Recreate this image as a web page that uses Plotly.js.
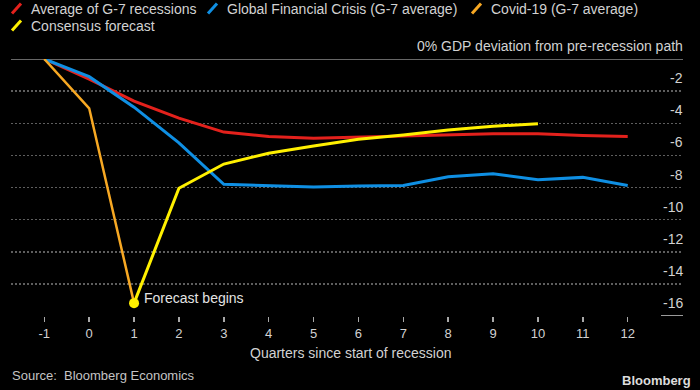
<!DOCTYPE html>
<html>
<head>
<meta charset="utf-8">
<script src="https://cdn.plot.ly/plotly-3.0.1.min.js"></script>
<style>
html,body{margin:0;padding:0;background:#000;}
#chart{width:700px;height:390px;}
</style>
</head>
<body>
<div id="chart"></div>
<script>
// ---- Data ----
const quarters = [-1, 0, 1, 2, 3, 4, 5, 6, 7, 8, 9, 10, 11, 12];
const avgG7 = [0, -1.25, -2.62, -3.68, -4.55, -4.83, -4.94, -4.86, -4.79, -4.71, -4.65, -4.65, -4.77, -4.83];
const gfc = [0, -1.1, -3.0, -5.22, -7.8, -7.89, -7.97, -7.91, -7.87, -7.33, -7.14, -7.51, -7.37, -7.87];
const covidQuarters = [-1, 0, 1];
const covid = [0, -3.07, -15.2];
const forecastQuarters = [1, 2, 3, 4, 5, 6, 7, 8, 9, 10];
const forecast = [-15.2, -8.05, -6.54, -5.87, -5.42, -5.0, -4.73, -4.42, -4.19, -4.03];

const seriesNames = ["Average of G-7 recessions", "Global Financial Crisis (G-7 average)", "Covid-19 (G-7 average)", "Consensus forecast"];
const yTickVals = [0, -2, -4, -6, -8, -10, -12, -14, -16];
const yTickText = ["0% GDP deviation from pre-recession path", "-2", "-4", "-6", "-8", "-10", "-12", "-14", "-16"];
const xTitle = "Quarters since start of recession";
const sourceText = "Source:  Bloomberg Economics";
const forecastLabel = "Forecast begins";

// ---- Styling / layout helpers ----
const colors = ["#e3211c", "#0f8fe3", "#f7a823", "#fff000"];
const W = 700, H = 390, ML = 11, MR = 17, MT = 59, MB = 74;
const px = x => (x - ML) / (W - ML - MR);
const py = y => (H - MB - y) / (H - MT - MB);
const font = "Liberation Sans, Arial, sans-serif";
const textCol = "#d2d2d2";

const traces = [
  {x: quarters, y: avgG7, name: seriesNames[0], mode: "lines", line: {color: colors[0], width: 3}},
  {x: quarters, y: gfc, name: seriesNames[1], mode: "lines", line: {color: colors[1], width: 3}},
  {x: covidQuarters, y: covid, name: seriesNames[2], mode: "lines", line: {color: colors[2], width: 2.5}},
  {x: forecastQuarters, y: forecast, name: seriesNames[3], mode: "lines", line: {color: colors[3], width: 3}},
  {x: [forecastQuarters[0]], y: [forecast[0]], mode: "markers", marker: {color: colors[3], size: 10}, showlegend: false, hoverinfo: "skip"}
];

// legend rows (pixel positions of items)
const legendItems = [
  {slashX: 12, textX: 29, rowY: 8.5},
  {slashX: 208, textX: 225, rowY: 8.5},
  {slashX: 472, textX: 489, rowY: 8.5},
  {slashX: 12, textX: 29, rowY: 25.5}
];

const shapes = [];
const annotations = [];
legendItems.forEach((it, i) => {
  shapes.push({type: "line", xref: "paper", yref: "paper",
    x0: px(it.slashX), y0: py(it.rowY + 5), x1: px(it.slashX + 9), y1: py(it.rowY - 5),
    line: {color: colors[i], width: 3}});
  annotations.push({xref: "paper", yref: "paper", x: px(it.textX), y: py(it.rowY),
    xanchor: "left", yanchor: "middle", showarrow: false, text: seriesNames[i],
    font: {family: font, size: 14, color: textCol}});
});

// zero line and -16 base mark
shapes.push({type: "line", xref: "paper", yref: "y", x0: 0, x1: 1, y0: 0, y1: 0, layer: "below",
  line: {color: "#8a8a8a", width: 1.5}});
shapes.push({type: "line", xref: "paper", yref: "y", x0: px(661), x1: 1, y0: -16, y1: -16, layer: "below",
  line: {color: "#9a9a9a", width: 2}});

// y labels above gridlines, right aligned
yTickVals.forEach((v, i) => {
  annotations.push({xref: "paper", yref: "y", x: 1, y: v, xanchor: "right", yanchor: "middle",
    xshift: 2, yshift: 13, showarrow: false, text: yTickText[i],
    font: {family: font, size: 14, color: textCol}});
});

// x axis title
annotations.push({xref: "paper", yref: "paper", x: px(351), y: py(353), xanchor: "center", yanchor: "middle",
  showarrow: false, text: xTitle, font: {family: font, size: 14, color: textCol}});
// source
annotations.push({xref: "paper", yref: "paper", x: px(10), y: py(375), xanchor: "left", yanchor: "middle",
  showarrow: false, text: sourceText, font: {family: font, size: 13, color: "#c4c4c4"}});
// Bloomberg
annotations.push({xref: "paper", yref: "paper", x: px(693), y: py(380), xanchor: "right", yanchor: "middle",
  showarrow: false, text: "<b>Bloomberg</b>", font: {family: font, size: 13, color: "#dcdcdc"}});
// forecast label
annotations.push({xref: "x", yref: "y", x: forecastQuarters[0], y: forecast[0], xanchor: "left", yanchor: "middle",
  xshift: 8, yshift: 5, showarrow: false, text: forecastLabel, font: {family: font, size: 14, color: "#e4e4e4"}});

const layout = {
  width: W, height: H,
  margin: {l: ML, r: MR, t: MT, b: MB, pad: 0},
  paper_bgcolor: "#000", plot_bgcolor: "#000",
  showlegend: false,
  font: {family: font, color: textCol},
  xaxis: {
    range: [-1.742, 13.232], tickvals: quarters, ticktext: quarters.map(String),
    ticks: "outside", ticklen: 5, tickwidth: 1.5, tickcolor: "#a8a8a8",
    showgrid: false, zeroline: false, showline: false, fixedrange: true,
    tickfont: {family: font, size: 13, color: textCol}
  },
  yaxis: {
    range: [-16, 0], tickvals: yTickVals.filter(v => v < 0 && v > -16),
    showticklabels: false, ticks: "", showgrid: true, gridcolor: "#5e5e5e", gridwidth: 1.5,
    griddash: "2px,2px", zeroline: false, showline: false, fixedrange: true
  },
  shapes: shapes,
  annotations: annotations
};

Plotly.newPlot("chart", traces, layout, {displayModeBar: false, staticPlot: true});
</script>
</body>
</html>
